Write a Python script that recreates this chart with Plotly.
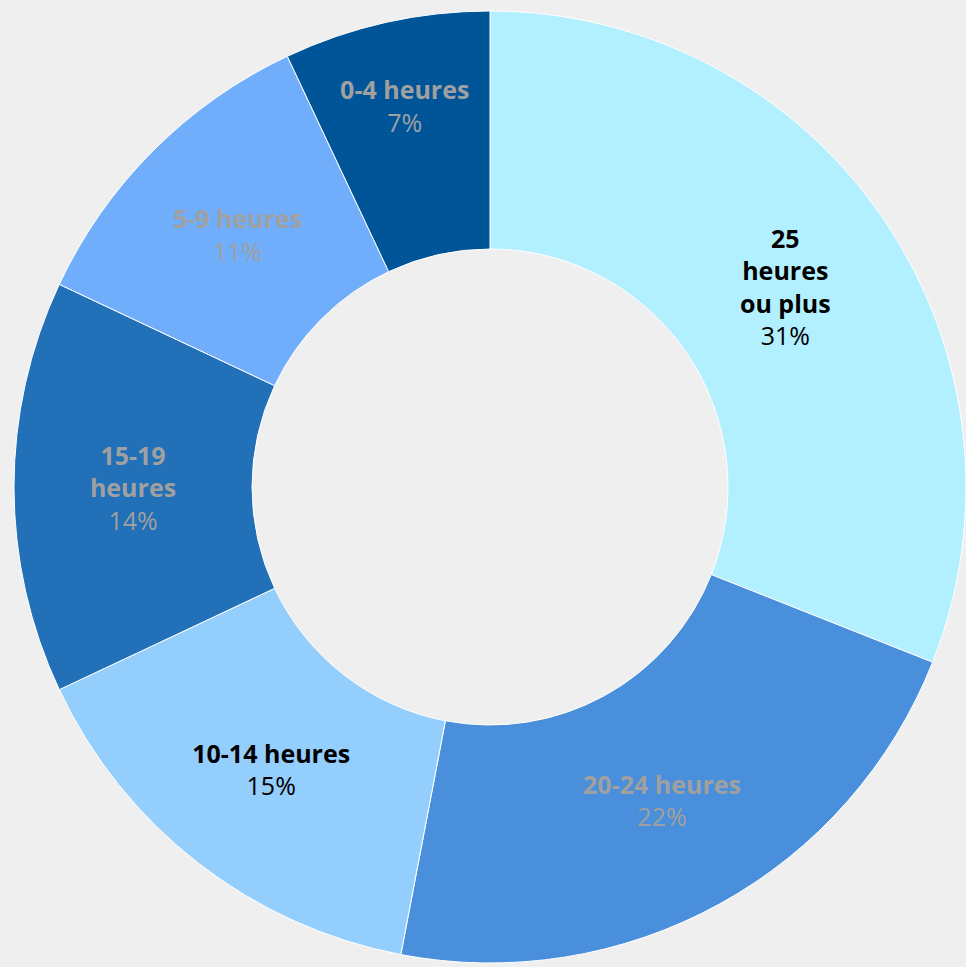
import plotly.graph_objects as go

categories = ["25 heures ou plus", "20-24 heures", "10-14 heures", "15-19 heures", "5-9 heures", "0-4 heures"]
display_labels = ["25<br>heures<br>ou plus", "20-24 heures", "10-14 heures", "15-19<br>heures", "5-9 heures", "0-4 heures"]
values = [31, 22, 15, 14, 11, 7]
colors = ["#b3f0ff", "#4a8fdb", "#94cefd", "#2170b8", "#70adfa", "#005498"]
text_colors = ["#000000", "#a0a0a0", "#000000", "#a0a0a0", "#a0a0a0", "#a0a0a0"]

fig = go.Figure(go.Pie(
    labels=categories,
    values=values,
    customdata=display_labels,
    texttemplate="<b>%{customdata}</b><br>%{percent:.0%}",
    textposition="inside",
    insidetextorientation="horizontal",
    textfont=dict(family="Open Sans", size=25, color=text_colors),
    marker=dict(colors=colors, line=dict(color="#ffffff", width=1)),
    hole=0.5,
    sort=False,
    direction="clockwise",
    rotation=0,
    showlegend=False,
    hoverinfo="label+percent",
))

fig.update_layout(
    width=966,
    height=967,
    margin=dict(l=14, r=0, t=9, b=2),
    paper_bgcolor="#efefef",
    plot_bgcolor="#efefef",
)

fig.write_html(
    "out.html",
    config={"displayModeBar": False},
    post_script="document.body.style.margin='0';document.body.style.background='#efefef';",
)
